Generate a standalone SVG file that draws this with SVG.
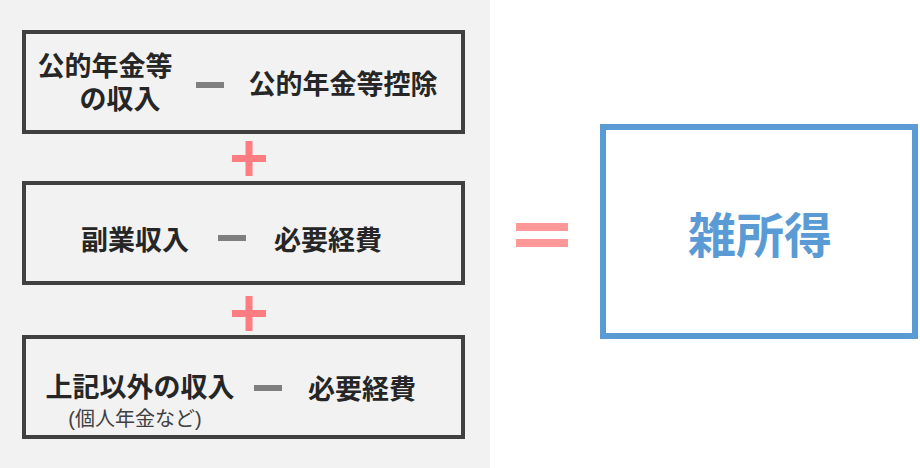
<svg xmlns="http://www.w3.org/2000/svg" width="920" height="468" viewBox="0 0 920 468">
<style>
.box{fill:#f2f2f2;stroke:#404040;stroke-width:4}
.t{font-family:"Liberation Sans","Noto Sans CJK JP",sans-serif;font-weight:bold;font-size:27px;fill:#262626;text-anchor:middle}
.s{font-family:"Liberation Sans","Noto Sans CJK JP",sans-serif;font-size:20px;fill:#404040;text-anchor:middle}
.m{fill:#7f7f7f}
.p{fill:#ff7c80}
</style>
<rect x="0" y="0" width="490" height="468" fill="#f2f2f2"/>
<g id="box1">
<rect class="box" x="24" y="32" width="439" height="100"/>
<text class="t" x="105" y="76">公的年金等</text>
<text class="t" x="120" y="109">の収入</text>
<rect class="m" x="196" y="82" width="28" height="6"/>
<text class="t" x="343" y="94">公的年金等控除</text>
</g>
<g id="box2">
<rect class="box" x="24" y="183" width="439" height="100"/>
<text class="t" x="135" y="250">副業収入</text>
<rect class="m" x="218" y="235" width="28" height="6"/>
<text class="t" x="328" y="250">必要経費</text>
</g>
<g id="box3">
<rect class="box" x="24" y="337" width="439" height="100"/>
<text class="t" x="140" y="397">上記以外の収入</text>
<rect class="m" x="254" y="385" width="28" height="6"/>
<text class="t" x="362" y="399">必要経費</text>
<text class="s" x="135" y="426">(個人年金など)</text>
</g>
<g id="connectors">
<rect class="p" x="232" y="155" width="34" height="7"/>
<rect class="p" x="245.5" y="141" width="7" height="35"/>
<rect class="p" x="232" y="310" width="34" height="7"/>
<rect class="p" x="245.5" y="296" width="7" height="35"/>
<rect x="516" y="223" width="52" height="8" fill="#ff9999"/>
<rect x="516" y="239" width="52" height="8" fill="#ff9999"/>
</g>
<g id="result">
<rect x="603" y="127" width="312" height="209" fill="#fff" stroke="#5b9bd5" stroke-width="6"/>
<text x="760" y="253" font-family="Liberation Sans,'Noto Sans CJK JP',sans-serif" font-weight="bold" font-size="48" fill="#5b9bd5" text-anchor="middle">雑所得</text>
</g>
</svg>
